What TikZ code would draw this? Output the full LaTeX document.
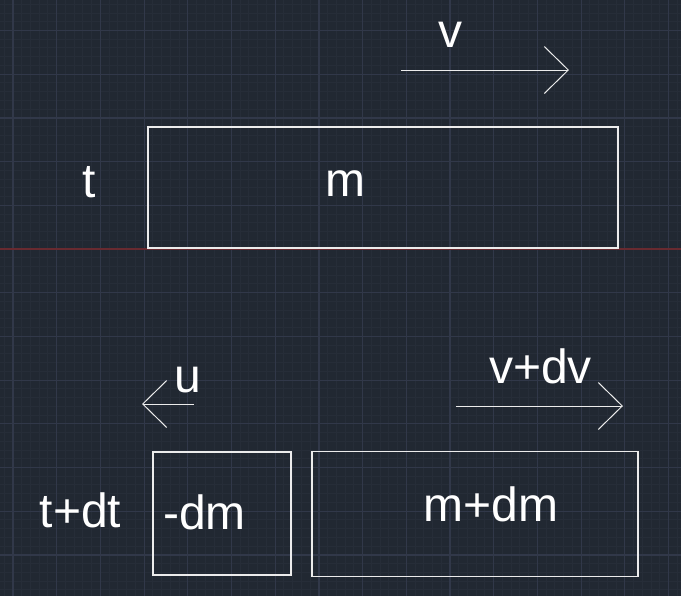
\documentclass[tikz,border=0pt]{standalone}
\usepackage{fontspec}
\setmainfont{Liberation Sans}
\usepackage{tikz}
\usetikzlibrary{arrows.meta}
\definecolor{fond}{RGB}{33,40,50}
\definecolor{grille}{RGB}{38,45,56}
\definecolor{grille2}{RGB}{49,56,73}
\definecolor{axe}{RGB}{104,42,48}
\definecolor{trait}{RGB}{236,236,236}
\tikzstyle{boite} = [draw=trait,line width=0.75pt,inner sep=0pt]
\tikzstyle{fleche} = [-{Straight Barb[length=12pt,width=23.5pt]},draw=trait,line width=0.5pt]
\tikzstyle{texte} = [text=white,inner sep=0pt,anchor=base,font=\fontsize{24}{28}\selectfont]

\begin{document}
\begin{tikzpicture}[x=0.5pt,y=-0.5pt]
	\fill[fond] (0,0) rectangle (681,596);
	\useasboundingbox (0,0) rectangle (681,596);

	% grille
	\foreach \i in {-1,...,77}
		\draw[grille,line width=0.5pt] ({13+8.74*\i},0) -- ({13+8.74*\i},596);
	\foreach \j in {-28,...,39}
		\draw[grille,line width=0.5pt] (0,{249+8.74*\j}) -- (681,{249+8.74*\j});
	\foreach \i in {0,...,15}
		\draw[grille2,line width=0.6pt] ({13+43.7*\i},0) -- ({13+43.7*\i},596);
	\foreach \j in {-5,...,7}
		\draw[grille2,line width=0.6pt] (0,{249+43.7*\j}) -- (681,{249+43.7*\j});
	\draw[axe,line width=0.6pt] (0,249) -- (681,249);

	% instant t
	\node[boite,minimum width=235pt,minimum height=60.5pt] (M) at (383,187.5) {};
	\node[texte] (t) at (89.5,197) {t};
	\node[texte] (m) at (345.5,196) {m};
	\coordinate (vA) at (401,70);
	\coordinate (vB) at (569,70);
	\draw[fleche] (vA) -- (vB);
	\node[texte] (v) at (450,47) {v};

	% instant t+dt
	\node[boite,minimum width=69pt,minimum height=61.5pt] (DM) at (222,513.5) {};
	\node[boite,minimum width=163pt,minimum height=62.5pt] (MDM) at (475,514) {};
	\node[texte] (tdt) at (80.5,527) {t+dt};
	\node[texte] (dm) at (204.5,529) {-dm};
	\node[texte] (mdm) at (491,521) {m+dm};

	\coordinate (uA) at (194,404);
	\coordinate (uB) at (142,404);
	\draw[fleche] (uA) -- (uB);
	\node[texte] (u) at (187.5,392) {u};

	\coordinate (wA) at (456,406);
	\coordinate (wB) at (623,406);
	\draw[fleche] (wA) -- (wB);
	\node[texte] (vdv) at (540.5,383) {v+dv};
\end{tikzpicture}
\end{document}
